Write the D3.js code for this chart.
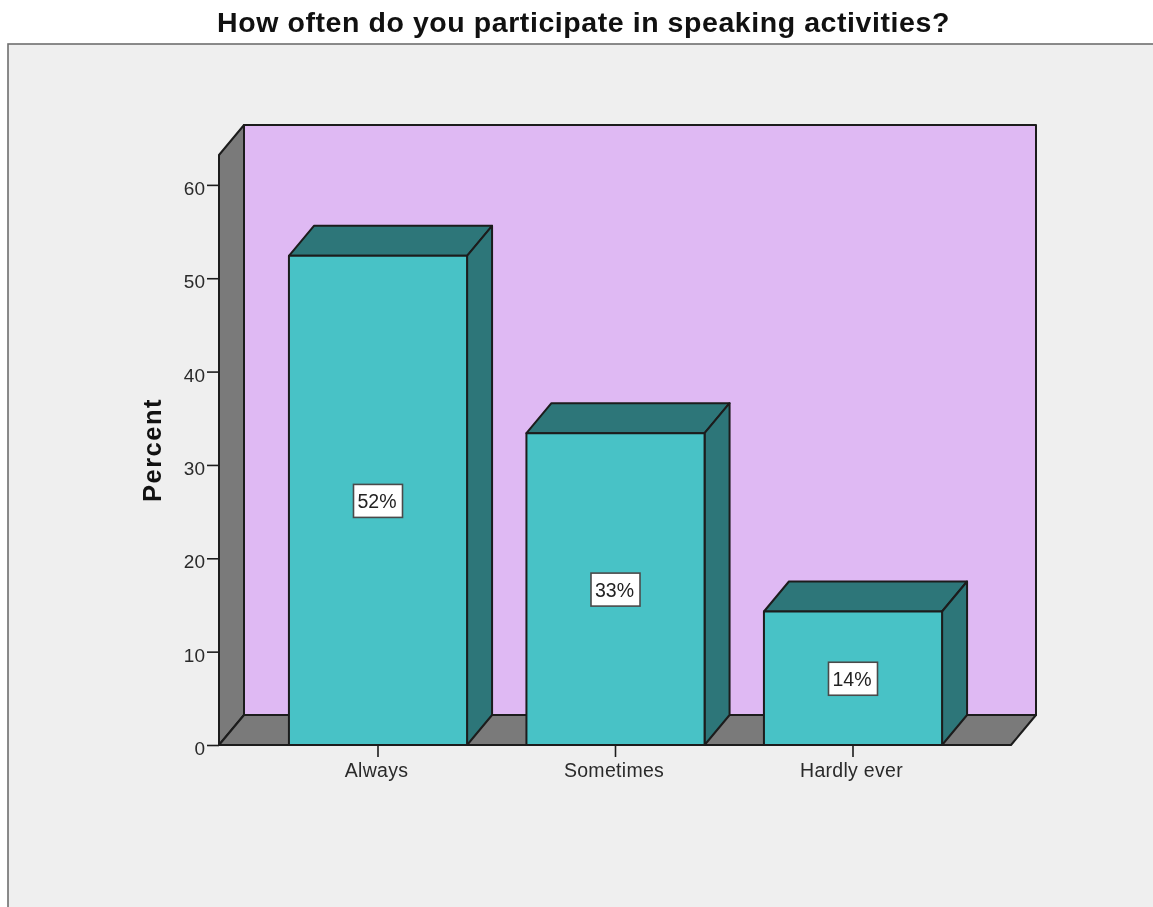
<!DOCTYPE html>
<html><head><meta charset="utf-8">
<script src="https://cdn.jsdelivr.net/npm/d3@7/dist/d3.min.js"></script>
<style>html,body{margin:0;padding:0;background:#fff;overflow:hidden}svg{display:block;font-family:"Liberation Sans",Arial,sans-serif;filter:blur(0.45px)}</style>
</head><body><svg id="c" width="1153" height="907"></svg>
<script>
const categories = ["Always","Sometimes","Hardly ever"];
const percents = [52.4,33.4,14.3];
const barLabels = ["52%","33%","14%"];
const yTicks = [0,10,20,30,40,50,60];
const yMax = 63.2;
const titleText = "How often do you participate in speaking activities?";
const yTitle = "Percent";

const svg = d3.select("#c");
const W = 1153, H = 907;
const ink = "#1c1c1c", side = "#7a7a7a", wall = "#dfb9f3", face = "#48c2c6", dark = "#2d7679";
const dx = 25, dy = 30;
const left = 219, right = 1011;
const y = d3.scaleLinear().domain([0,yMax]).range([745,155]);
const x = d3.scaleBand().domain(categories).range([259.25,971.75]).paddingInner(0.25).paddingOuter(0.125);
const poly = (pts,fill) => svg.append("polygon").attr("points",pts.map(p=>p.join(",")).join(" "))
  .attr("fill",fill).attr("stroke",ink).attr("stroke-width",2).attr("stroke-linejoin","round");

svg.append("rect").attr("x",8).attr("y",44).attr("width",W+10).attr("height",H)
  .attr("fill","#efefef").attr("stroke","#6f6f6f").attr("stroke-width",1.6);
svg.append("text").attr("x",583.5).attr("y",32).attr("text-anchor","middle")
  .attr("font-size",28.5).attr("letter-spacing",0.57).attr("font-weight","bold").attr("fill","#111").text(titleText);

const y0 = y(0), yT = y(yMax);
poly([[left+dx,yT-dy],[right+dx,yT-dy],[right+dx,y0-dy],[left+dx,y0-dy]],wall);
poly([[left,y0],[left+dx,y0-dy],[left+dx,yT-dy],[left,yT]],side);
poly([[left,y0],[right,y0],[right+dx,y0-dy],[left+dx,y0-dy]],side);

const ax = d3.axisLeft(y).tickValues(yTicks).tickSize(12).tickPadding(2).tickFormat(d3.format("d"));
const gy = svg.append("g").attr("transform",`translate(${left},0)`).call(ax);
gy.select(".domain").remove();
gy.selectAll("line").attr("stroke",ink).attr("stroke-width",1.6);
gy.selectAll("text").attr("font-size",19).attr("fill","#2a2a2a").attr("font-family","inherit")
  .attr("dy","0.5em");

const xAx = d3.axisBottom(x).tickSize(12).tickPadding(6);
const gx = svg.append("g").attr("transform",`translate(0,${y0})`).call(xAx);
gx.select(".domain").remove();
gx.selectAll("line").attr("stroke",ink).attr("stroke-width",1.6);
gx.selectAll("text").attr("font-size",19.5).attr("letter-spacing",0.3).attr("dx",-1.5).attr("fill","#2a2a2a").attr("font-family","inherit");

categories.forEach((c,i)=>{
  const a = x(c), b = a + x.bandwidth(), t = y(percents[i]);
  poly([[a,t],[a+dx,t-dy],[b+dx,t-dy],[b,t]],dark);
  poly([[b,t],[b+dx,t-dy],[b+dx,y0-dy],[b,y0]],dark);
  poly([[a,t],[b,t],[b,y0],[a,y0]],face);
  const cx = a + x.bandwidth()/2, cy = (t+y0)/2;
  svg.append("rect").attr("x",cx-24.5).attr("y",cy-16).attr("width",49).attr("height",33)
    .attr("fill","#fff").attr("stroke","#4a4a4a").attr("stroke-width",1.6);
  svg.append("text").attr("x",cx-1).attr("y",cy+7.5).attr("text-anchor","middle")
    .attr("font-size",19.5).attr("fill","#222").text(barLabels[i]);
});
svg.append("text").attr("transform","translate(160.5,450) rotate(-90)").attr("text-anchor","middle")
  .attr("font-size",25.5).attr("font-weight","bold").attr("letter-spacing",1.5).attr("fill","#111").text(yTitle);
</script></body></html>
